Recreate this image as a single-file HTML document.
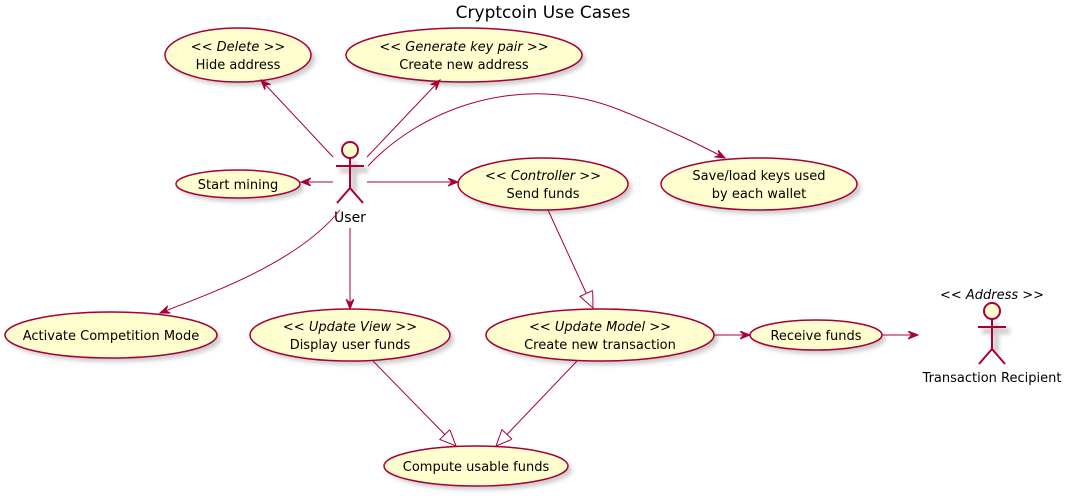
<!DOCTYPE html>
<html><head><meta charset="utf-8"><style>
html,body{margin:0;padding:0;background:#fff;}
svg{display:block;}
text{font-family:"DejaVu Sans","Liberation Sans",sans-serif;font-size:13px;fill:#000;}
</style></head><body>
<svg width="1086" height="496" viewBox="0 0 1086 496" xmlns="http://www.w3.org/2000/svg">
<defs>
<marker id="a" markerWidth="12" markerHeight="10" refX="10" refY="4" orient="auto" markerUnits="userSpaceOnUse">
<path d="M0,0 L10,4 L0,8 L4,4 z" fill="#A80036" stroke="#A80036"/></marker>
<marker id="t" markerWidth="20" markerHeight="16" refX="17" refY="7" orient="auto" markerUnits="userSpaceOnUse">
<path d="M1,0 L17,7 L1,14 z" fill="#fff" stroke="#A80036"/></marker>
<filter id="s" x="-20%" y="-20%" width="150%" height="160%"><feGaussianBlur stdDeviation="2"/></filter>
</defs>
<text x="543" y="18" text-anchor="middle" style="font-size:17px">Cryptcoin Use Cases</text>

<g fill="#FEFECE" stroke="#A80036" stroke-width="1.5">
<g transform="translate(4,4)" fill="#ccc" stroke="none" filter="url(#s)">
<ellipse cx="238" cy="55" rx="73" ry="27"/><ellipse cx="464" cy="55" rx="118" ry="27"/>
<ellipse cx="238" cy="184" rx="62" ry="14"/><ellipse cx="543" cy="184" rx="85" ry="26"/>
<ellipse cx="759" cy="184" rx="98" ry="26"/><ellipse cx="111" cy="335" rx="106" ry="23"/>
<ellipse cx="350" cy="335" rx="100" ry="26"/><ellipse cx="600" cy="335" rx="114" ry="26"/>
<ellipse cx="816" cy="335" rx="66" ry="15"/><ellipse cx="476" cy="466" rx="92" ry="20"/>
</g>
<ellipse cx="238" cy="55" rx="73" ry="27"/><ellipse cx="464" cy="55" rx="118" ry="27"/>
<ellipse cx="238" cy="184" rx="62" ry="14"/><ellipse cx="543" cy="184" rx="85" ry="26"/>
<ellipse cx="759" cy="184" rx="98" ry="26"/><ellipse cx="111" cy="335" rx="106" ry="23"/>
<ellipse cx="350" cy="335" rx="100" ry="26"/><ellipse cx="600" cy="335" rx="114" ry="26"/>
<ellipse cx="816" cy="335" rx="66" ry="15"/><ellipse cx="476" cy="466" rx="92" ry="20"/>
</g>

<text x="238" y="51" text-anchor="middle" font-style="italic">&lt;&lt; Delete &gt;&gt;</text>
<text x="238" y="69" text-anchor="middle">Hide address</text>
<text x="464" y="51" text-anchor="middle" font-style="italic">&lt;&lt; Generate key pair &gt;&gt;</text>
<text x="464" y="69" text-anchor="middle">Create new address</text>
<text x="238" y="189" text-anchor="middle">Start mining</text>
<text x="543" y="180" text-anchor="middle" font-style="italic">&lt;&lt; Controller &gt;&gt;</text>
<text x="543" y="198" text-anchor="middle">Send funds</text>
<text x="759" y="180" text-anchor="middle">Save/load keys used</text>
<text x="759" y="198" text-anchor="middle">by each wallet</text>
<text x="111" y="340" text-anchor="middle">Activate Competition Mode</text>
<text x="350" y="331" text-anchor="middle" font-style="italic">&lt;&lt; Update View &gt;&gt;</text>
<text x="350" y="349" text-anchor="middle">Display user funds</text>
<text x="600" y="331" text-anchor="middle" font-style="italic">&lt;&lt; Update Model &gt;&gt;</text>
<text x="600" y="349" text-anchor="middle">Create new transaction</text>
<text x="816" y="340" text-anchor="middle">Receive funds</text>
<text x="476" y="471" text-anchor="middle">Compute usable funds</text>

<g stroke="#ccc" stroke-width="6" fill="none" filter="url(#s)" transform="translate(4,4)">
<line x1="350" y1="158" x2="350" y2="188"/><line x1="336" y1="166" x2="364" y2="166"/>
<line x1="992" y1="319" x2="992" y2="349"/><line x1="978" y1="327" x2="1006" y2="327"/>
</g>
<g stroke="#A80036" stroke-width="2" fill="#FEFECE">
<circle cx="350" cy="150" r="8"/>
<path d="M350,158 L350,188 M336,166 L364,166 M337,203 L350,188 L363,203" fill="none"/>
<circle cx="992" cy="311" r="8"/>
<path d="M992,319 L992,349 M978,327 L1006,327 M979,364 L992,349 L1005,364" fill="none"/>
</g>
<text x="350" y="222" text-anchor="middle" style="font-size:14px">User</text>
<text x="992" y="299" text-anchor="middle" font-style="italic">&lt;&lt; Address &gt;&gt;</text>
<text x="992" y="382" text-anchor="middle">Transaction Recipient</text>

<g stroke="#A80036" stroke-width="1" fill="none">
<line x1="333" y1="157" x2="261" y2="80" marker-end="url(#a)"/>
<line x1="367" y1="157" x2="440" y2="80" marker-end="url(#a)"/>
<path d="M368,166 C420,110 520,70 620,110 C670,130 700,145 725,158" marker-end="url(#a)"/>
<line x1="333" y1="182" x2="301" y2="182" marker-end="url(#a)"/>
<line x1="367" y1="182" x2="458" y2="182" marker-end="url(#a)"/>
<path d="M340,210 C300,260 220,290 160,313" marker-end="url(#a)"/>
<line x1="350" y1="228" x2="350" y2="309" marker-end="url(#a)"/>
<line x1="548" y1="210" x2="593" y2="308" marker-end="url(#t)"/>
<line x1="714" y1="335" x2="750" y2="335" marker-end="url(#a)"/>
<line x1="882" y1="335" x2="918" y2="335" marker-end="url(#a)"/>
<line x1="373" y1="361" x2="456" y2="446" marker-end="url(#t)"/>
<line x1="577" y1="361" x2="496" y2="446" marker-end="url(#t)"/>
</g>
</svg>
</body></html>
